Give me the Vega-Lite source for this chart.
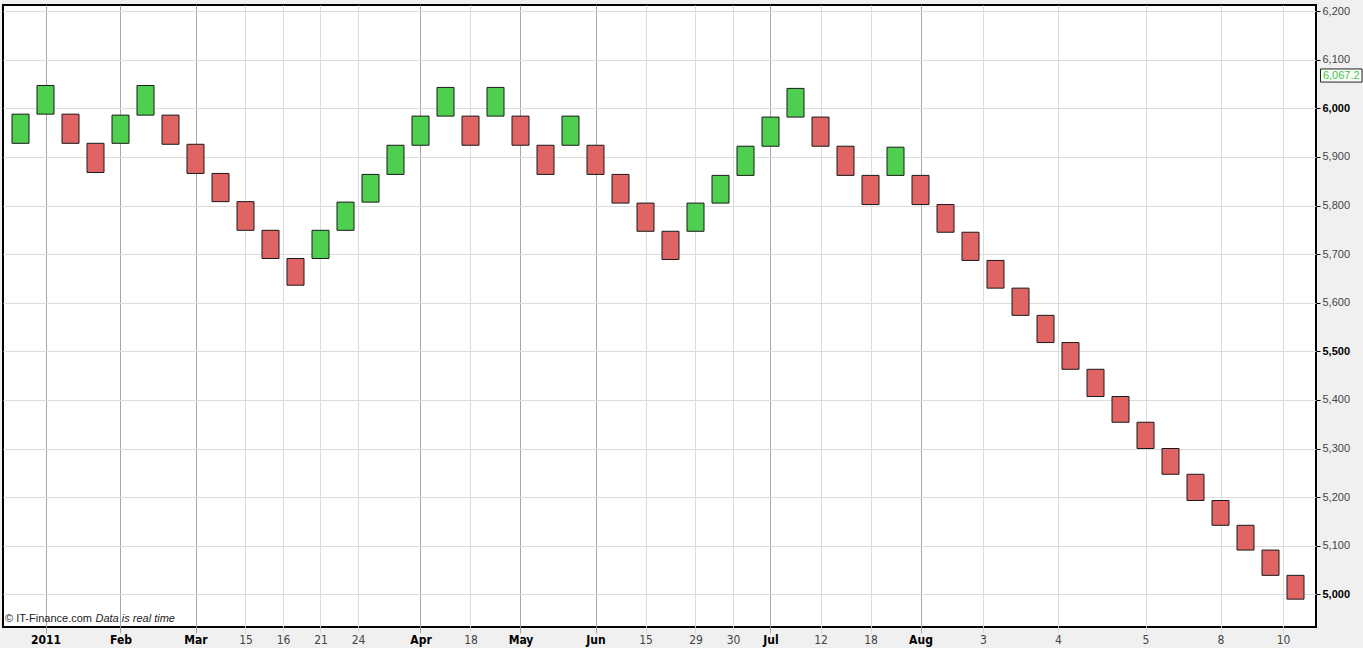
{
  "$schema": "https://vega.github.io/schema/vega-lite/v6.json",
  "width": 1313,
  "height": 622,
  "autosize": {"type": "none"},
  "padding": {"left": 3, "top": 5, "right": 47, "bottom": 21},
  "background": "#f0f0f0",
  "view": {"fill": "white", "stroke": "#000000", "strokeWidth": 2},
  "datasets": {
    "bricks": [
      {"i": 1, "lo": 5928, "hi": 5988, "dir": "up"},
      {"i": 2, "lo": 5988, "hi": 6047, "dir": "up"},
      {"i": 3, "lo": 5928, "hi": 5988, "dir": "down"},
      {"i": 4, "lo": 5868, "hi": 5928, "dir": "down"},
      {"i": 5, "lo": 5928, "hi": 5986, "dir": "up"},
      {"i": 6, "lo": 5986, "hi": 6047, "dir": "up"},
      {"i": 7, "lo": 5926, "hi": 5986, "dir": "down"},
      {"i": 8, "lo": 5866, "hi": 5926, "dir": "down"},
      {"i": 9, "lo": 5808, "hi": 5866, "dir": "down"},
      {"i": 10, "lo": 5749, "hi": 5808, "dir": "down"},
      {"i": 11, "lo": 5691, "hi": 5749, "dir": "down"},
      {"i": 12, "lo": 5636, "hi": 5691, "dir": "down"},
      {"i": 13, "lo": 5691, "hi": 5749, "dir": "up"},
      {"i": 14, "lo": 5749, "hi": 5807, "dir": "up"},
      {"i": 15, "lo": 5807, "hi": 5864, "dir": "up"},
      {"i": 16, "lo": 5864, "hi": 5924, "dir": "up"},
      {"i": 17, "lo": 5924, "hi": 5984, "dir": "up"},
      {"i": 18, "lo": 5984, "hi": 6043, "dir": "up"},
      {"i": 19, "lo": 5924, "hi": 5984, "dir": "down"},
      {"i": 20, "lo": 5984, "hi": 6043, "dir": "up"},
      {"i": 21, "lo": 5924, "hi": 5984, "dir": "down"},
      {"i": 22, "lo": 5864, "hi": 5924, "dir": "down"},
      {"i": 23, "lo": 5924, "hi": 5984, "dir": "up"},
      {"i": 24, "lo": 5864, "hi": 5924, "dir": "down"},
      {"i": 25, "lo": 5805, "hi": 5864, "dir": "down"},
      {"i": 26, "lo": 5747, "hi": 5805, "dir": "down"},
      {"i": 27, "lo": 5689, "hi": 5747, "dir": "down"},
      {"i": 28, "lo": 5747, "hi": 5805, "dir": "up"},
      {"i": 29, "lo": 5805, "hi": 5862, "dir": "up"},
      {"i": 30, "lo": 5862, "hi": 5922, "dir": "up"},
      {"i": 31, "lo": 5922, "hi": 5982, "dir": "up"},
      {"i": 32, "lo": 5982, "hi": 6041, "dir": "up"},
      {"i": 33, "lo": 5922, "hi": 5982, "dir": "down"},
      {"i": 34, "lo": 5862, "hi": 5922, "dir": "down"},
      {"i": 35, "lo": 5802, "hi": 5862, "dir": "down"},
      {"i": 36, "lo": 5862, "hi": 5920, "dir": "up"},
      {"i": 37, "lo": 5802, "hi": 5862, "dir": "down"},
      {"i": 38, "lo": 5745, "hi": 5802, "dir": "down"},
      {"i": 39, "lo": 5687, "hi": 5745, "dir": "down"},
      {"i": 40, "lo": 5630, "hi": 5687, "dir": "down"},
      {"i": 41, "lo": 5574, "hi": 5630, "dir": "down"},
      {"i": 42, "lo": 5518, "hi": 5574, "dir": "down"},
      {"i": 43, "lo": 5463, "hi": 5518, "dir": "down"},
      {"i": 44, "lo": 5407, "hi": 5463, "dir": "down"},
      {"i": 45, "lo": 5354, "hi": 5407, "dir": "down"},
      {"i": 46, "lo": 5300, "hi": 5354, "dir": "down"},
      {"i": 47, "lo": 5247, "hi": 5300, "dir": "down"},
      {"i": 48, "lo": 5193, "hi": 5247, "dir": "down"},
      {"i": 49, "lo": 5142, "hi": 5193, "dir": "down"},
      {"i": 50, "lo": 5091, "hi": 5142, "dir": "down"},
      {"i": 51, "lo": 5039, "hi": 5091, "dir": "down"},
      {"i": 52, "lo": 4990, "hi": 5039, "dir": "down"}
    ],
    "last": [{"price": 6067.2, "label": "6,067.2"}],
    "notes": [
      {"pos": 0.38, "text": "© IT-Finance.com", "style": "normal"},
      {"pos": 4.0, "text": "Data is real time", "style": "italic"}
    ]
  },
  "layer": [
    {
      "data": {"name": "bricks"},
      "mark": {"type": "bar", "width": 17, "stroke": "#1a1a1a", "strokeWidth": 1},
      "encoding": {
        "x": {
          "field": "i",
          "type": "quantitative",
          "scale": {"domain": [0.3, 52.82], "nice": false, "zero": false, "padding": 0},
          "axis": {
            "orient": "bottom",
            "title": null,
            "values": [2, 5, 8, 10, 11.5, 13, 14.5, 17, 19, 21, 24, 26, 28, 29.5, 31, 33, 35, 37, 39.5, 42.5, 46, 49, 51.5],
            "labelExpr": "['2011','Feb','Mar','15','16','21','24','Apr','18','May','Jun','15','29','30','Jul','12','18','Aug','3','4','5','8','10'][indexof([2,5,8,10,11.5,13,14.5,17,19,21,24,26,28,29.5,31,33,35,37,39.5,42.5,46,49,51.5], datum.value)]",
            "grid": true,
            "gridColor": {"condition": {"test": "indexof([2,5,8,17,21,24,31,37], datum.value) >= 0", "value": "#a8a8a8"}, "value": "#dcdcdc"},
            "gridWidth": 1,
            "domain": false,
            "ticks": true,
            "tickSize": 6,
            "tickColor": {"condition": {"test": "indexof([2,5,8,17,21,24,31,37], datum.value) >= 0", "value": "#a8a8a8"}, "value": "#dcdcdc"},
            "labelFont": "Liberation Sans Narrow, DejaVu Sans Condensed, sans-serif",
            "labelFontSize": 12,
            "labelPadding": 1,
            "labelFontWeight": {"condition": {"test": "indexof([2,5,8,17,21,24,31,37], datum.value) >= 0", "value": "bold"}, "value": "normal"},
            "labelColor": {"condition": {"test": "indexof([2,5,8,17,21,24,31,37], datum.value) >= 0", "value": "#000000"}, "value": "#444444"},
            "labelOverlap": false,
            "labelFlush": false
          }
        },
        "y": {
          "field": "lo",
          "type": "quantitative",
          "scale": {"domain": [4932.7, 6212.6], "nice": false, "zero": false, "padding": 0},
          "axis": {
            "orient": "right",
            "title": null,
            "values": [5000, 5100, 5200, 5300, 5400, 5500, 5600, 5700, 5800, 5900, 6000, 6100, 6200],
            "format": ",.0f",
            "grid": true,
            "gridColor": "#dcdcdc",
            "domain": false,
            "tickSize": 4,
            "tickColor": "#000000",
            "labelPadding": 2,
            "labelFont": "Liberation Sans, Arial, sans-serif",
            "labelFontSize": 11,
            "labelFontWeight": {"condition": {"test": "datum.value % 500 == 0", "value": "bold"}, "value": "normal"},
            "labelColor": {"condition": {"test": "datum.value % 500 == 0", "value": "#000000"}, "value": "#444444"},
            "labelFlush": false,
            "labelOverlap": false
          }
        },
        "y2": {"field": "hi"},
        "color": {
          "field": "dir",
          "type": "nominal",
          "scale": {"domain": ["up", "down"], "range": ["#4fcf4f", "#e06464"]},
          "legend": null
        }
      }
    },
    {
      "data": {"name": "notes"},
      "transform": [{"filter": "datum.style == 'normal'"}],
      "mark": {"type": "text", "align": "left", "baseline": "alphabetic", "fontSize": 11, "font": "Liberation Sans, Arial, sans-serif", "color": "#222222"},
      "encoding": {
        "x": {"field": "pos", "type": "quantitative"},
        "y": {"datum": 4943, "type": "quantitative"},
        "text": {"field": "text"}
      }
    },
    {
      "data": {"name": "notes"},
      "transform": [{"filter": "datum.style == 'italic'"}],
      "mark": {"type": "text", "align": "left", "baseline": "alphabetic", "fontSize": 11, "fontStyle": "italic", "font": "Liberation Sans, Arial, sans-serif", "color": "#222222"},
      "encoding": {
        "x": {"field": "pos", "type": "quantitative"},
        "y": {"datum": 4943, "type": "quantitative"},
        "text": {"field": "text"}
      }
    },
    {
      "data": {"name": "last"},
      "mark": {"type": "rect", "fill": "#f8fff8", "stroke": "#222222", "strokeWidth": 1},
      "encoding": {
        "x": {"datum": 53.0, "type": "quantitative"},
        "x2": {"datum": 54.66},
        "y": {"datum": 6081, "type": "quantitative"},
        "y2": {"datum": 6054}
      }
    },
    {
      "data": {"name": "last"},
      "mark": {"type": "text", "align": "center", "baseline": "middle", "fontSize": 11, "font": "Liberation Sans, Arial, sans-serif", "color": "#4cbf4c"},
      "encoding": {
        "x": {"datum": 53.83, "type": "quantitative"},
        "y": {"field": "price", "type": "quantitative"},
        "text": {"field": "label"}
      }
    }
  ]
}
